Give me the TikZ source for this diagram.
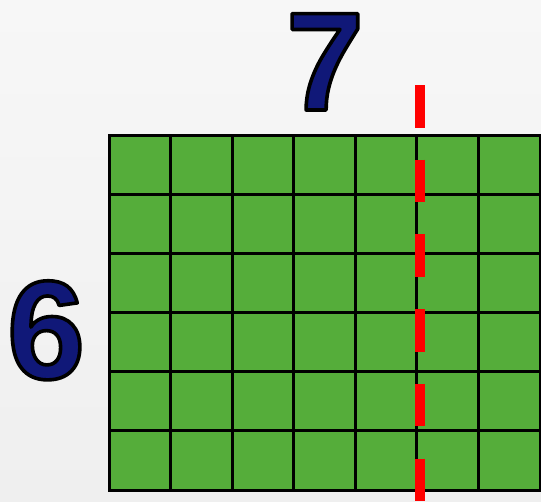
\documentclass[tikz,border=0pt]{standalone}
\usepackage{fontspec}
\setmainfont{Liberation Sans}
\definecolor{navynum}{RGB}{16,24,120}
\definecolor{gridgreen}{RGB}{85,173,58}
\definecolor{bgtop}{RGB}{247,247,247}
\definecolor{bgbot}{RGB}{239,239,239}
\newcommand\outlinedtext[1]{\special{pdf:code q 2 Tr 3.6 w 0 0 0 RG 1 j}#1\special{pdf:code Q}}
\tikzset{
  numlabel/.style={anchor=base, inner sep=0pt, text=navynum, font=\fontsize{140}{140}\bfseries\selectfont},
  gridline/.style={black, line width=3pt},
  cutline/.style={red, line width=10pt, line cap=butt, dash pattern=on 42.6pt off 32.1pt}
}
\begin{document}
\begin{tikzpicture}[x=1pt,y=-1pt]
  \useasboundingbox (0,0) rectangle (541,501);
  \shade[top color=bgtop, bottom color=bgbot] (0,0) rectangle (541,501);
  % grid
  \coordinate (gTL) at (109,135);
  \coordinate (gBR) at (540,490);
  \fill[gridgreen] (gTL) rectangle (gBR);
  \foreach \i in {1,...,6} {
    \draw[gridline] ({109+\i*61.571},135) -- ({109+\i*61.571},490);
  }
  \foreach \j in {1,...,5} {
    \draw[gridline] (109,{135+\j*59.167}) -- (540,{135+\j*59.167});
  }
  \draw[gridline] (gTL) rectangle (gBR);
  % red cut line
  \coordinate (cutTop) at (420,85);
  \coordinate (cutBot) at (420,501);
  \draw[cutline] (cutTop) -- (cutBot);
  % numbers
  \node[numlabel] (seven) at (325,110) {\outlinedtext{7}};
  \node[numlabel] (six) at (46,378.5) {\outlinedtext{6}};
\end{tikzpicture}
\end{document}
